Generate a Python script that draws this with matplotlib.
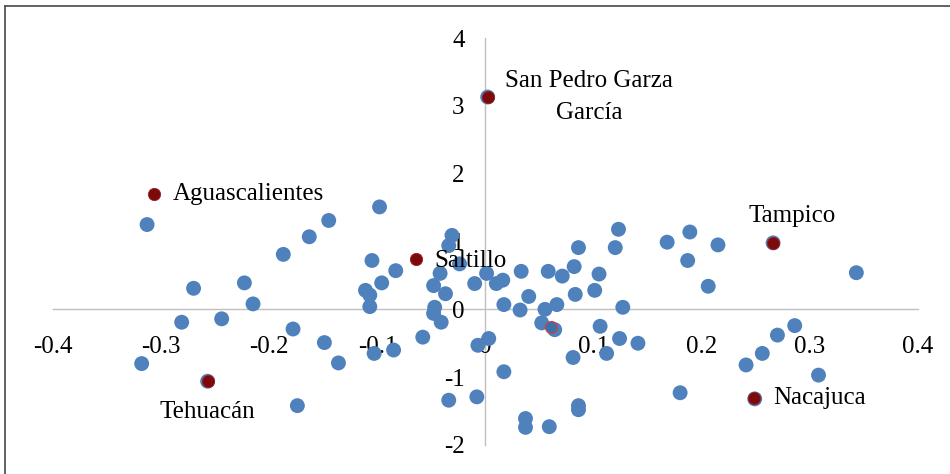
import numpy as np
import matplotlib.pyplot as plt
from matplotlib.lines import Line2D

plt.rcParams['font.family'] = ['Liberation Serif', 'DejaVu Serif']

# municipios (puntos azules): coordenadas en los dos primeros factores
x_mun = [-0.313, -0.318, -0.270, -0.281, -0.244, -0.223, -0.215, -0.257,
         -0.187, -0.178, -0.174, -0.163, -0.145, -0.149, -0.136, -0.098,
         -0.105, -0.083, -0.096, -0.111, -0.107, -0.107, -0.103, -0.085,
         -0.058, -0.047, -0.048, -0.041, -0.037, -0.048, -0.042, -0.024,
         -0.031, -0.034, -0.010, 0.001, 0.010, 0.016, -0.007, 0.003,
         0.017, -0.034, -0.008, 0.002,
         0.017, 0.033, 0.040, 0.032, 0.058, 0.071, 0.066, 0.055, 0.052,
         0.064, 0.082, 0.086, 0.083, 0.101, 0.105, 0.120, 0.123, 0.127,
         0.106, 0.124, 0.141, 0.081, 0.112, 0.037, 0.037, 0.059, 0.086,
         0.086, 0.168, 0.189, 0.215, 0.187, 0.206, 0.343, 0.266, 0.286,
         0.270, 0.256, 0.241, 0.308, 0.180, 0.249]
y_mun = [1.25, -0.80, 0.31, -0.19, -0.14, 0.39, 0.08, -1.06,
         0.81, -0.29, -1.42, 1.07, 1.31, -0.49, -0.79, 1.51,
         0.72, 0.57, 0.39, 0.28, 0.21, 0.04, -0.65, -0.60,
         -0.41, 0.03, -0.06, -0.19, 0.23, 0.35, 0.53, 0.67,
         1.09, 0.94, 0.38, 0.53, 0.38, 0.43, -0.53, -0.43,
         -0.92, -1.34, -1.29, 3.13,
         0.07, 0.56, 0.19, -0.01, 0.56, 0.49, 0.07, 0.00, -0.20,
         -0.30, 0.63, 0.91, 0.22, 0.28, 0.52, 0.91, 1.18, 0.03,
         -0.25, -0.43, -0.50, -0.71, -0.65, -1.61, -1.74, -1.73, -1.42,
         -1.48, 0.99, 1.14, 0.95, 0.72, 0.34, 0.54, 0.98, -0.24,
         -0.38, -0.65, -0.82, -0.97, -1.23, -1.32]

# municipios destacados
nombres = ['San Pedro Garza\nGarcía', 'Aguascalientes', 'Saltillo',
           'Tampico', 'Tehuacán', 'Nacajuca']
x_dest = [0.002, -0.307, -0.064, 0.266, -0.257, 0.248]
y_dest = [3.13, 1.70, 0.74, 0.98, -1.06, -1.31]
# desplazamiento de cada etiqueta (puntos) y alineacion
offsets = [(73, 0), (14, 0), (13, -1), (14, 19), (0, -22), (14, 0)]
alin = ['center', 'left', 'left', 'center', 'center', 'left']

# punto oculto con borde rojo
x_oculto = [0.061]
y_oculto = [-0.26]

xticks = [-0.4, -0.3, -0.2, -0.1, 0, 0.1, 0.2, 0.3, 0.4]
yticks = [-2, -1, 0, 1, 2, 3, 4]

fig = plt.figure(figsize=(9.5, 4.74), dpi=100)
ax = fig.add_axes([0.0558, 0.0612, 0.9105, 0.8586])

ax.scatter(x_mun, y_mun, s=115, color='#4F81BD', edgecolors='none', zorder=3)
ax.scatter(x_dest, y_dest, s=78, color='#7B0A0A', edgecolors='#9B2020',
           linewidths=0.6, zorder=4)
ax.scatter(x_oculto, y_oculto, s=75, facecolors='#3E6FA8', edgecolors='#D04040',
           linewidths=0.8, zorder=4)

for nom, xv, yv, off, ha in zip(nombres, x_dest, y_dest, offsets, alin):
    ax.annotate(nom, (xv, yv), xytext=off, textcoords='offset points',
                ha=ha, va='center', fontsize=18, linespacing=1.6, zorder=5)

ax.set_xlim(-0.4, 0.4)
ax.set_ylim(-2, 4)
ax.set_xticks(xticks)
ax.set_yticks(yticks)
ax.set_xticklabels(['-0.4', '-0.3', '-0.2', '-0.1', '0', '0.1', '0.2', '0.3', '0.4'])
ax.set_yticklabels([str(t) for t in yticks])

# ejes cruzando en el origen
ax.spines['left'].set_position(('data', 0))
ax.spines['bottom'].set_position(('data', 0))
ax.spines['top'].set_visible(False)
ax.spines['right'].set_visible(False)
for s in ['left', 'bottom']:
    ax.spines[s].set_color('#BFBFBF')
    ax.spines[s].set_linewidth(1.0)
    ax.spines[s].set_zorder(1)
ax.tick_params(axis='both', length=0, labelsize=18)
ax.tick_params(axis='x', pad=19)
ax.tick_params(axis='y', pad=15)
ax.patch.set_visible(False)

# marco del grafico
fig.add_artist(Line2D([5 / 950, 5 / 950], [0, 1 - 6 / 474], color='#555555',
                      lw=1.3, transform=fig.transFigure))
fig.add_artist(Line2D([5 / 950, 1], [1 - 6 / 474, 1 - 6 / 474], color='#555555',
                      lw=1.3, transform=fig.transFigure))

fig.savefig('out.png', dpi=100)
